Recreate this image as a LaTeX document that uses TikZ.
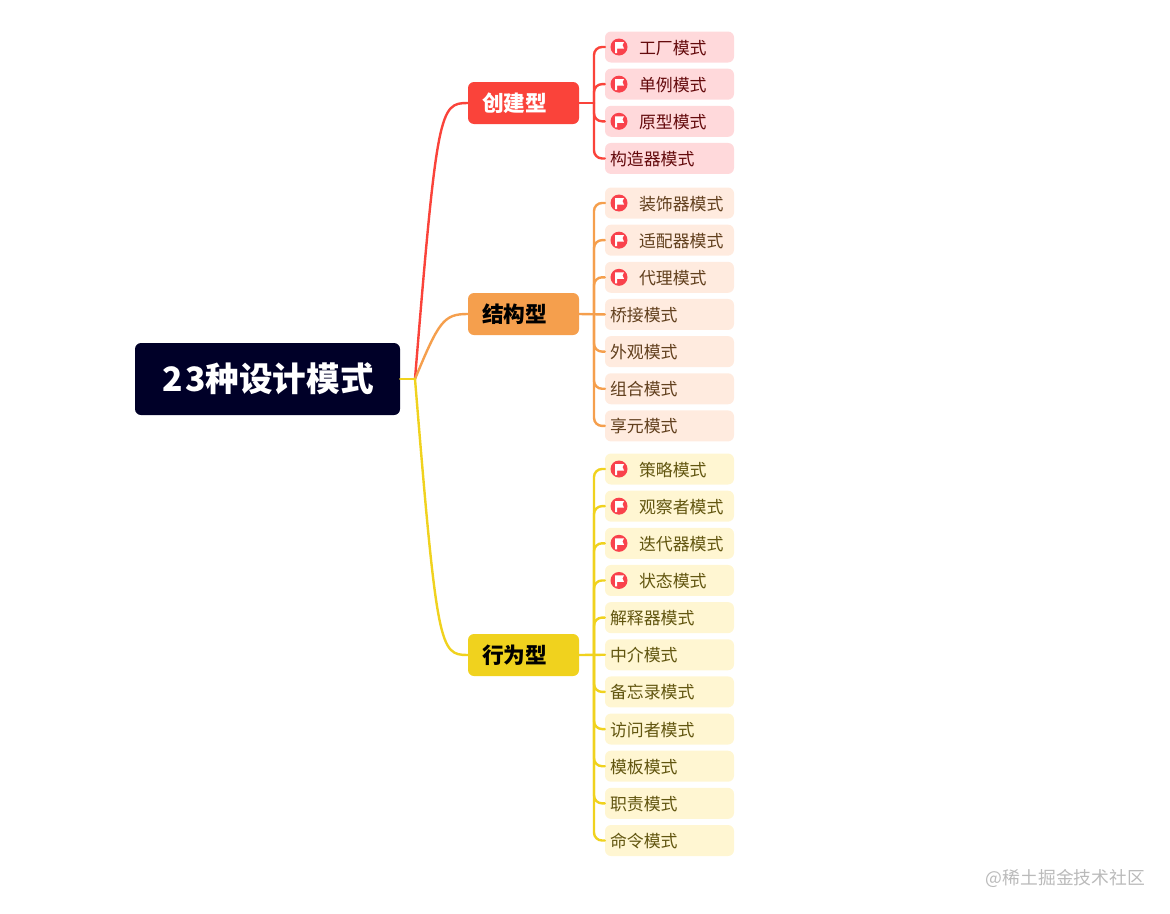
\documentclass[tikz,border=0pt]{standalone}
\usepackage{fontspec}
\setmainfont{Noto Sans CJK SC}
\usetikzlibrary{positioning}

\definecolor{rootblue}{HTML}{000028}
\definecolor{redmain}{HTML}{FA433A}
\definecolor{redleaf}{HTML}{FFD9DB}
\definecolor{redtext}{HTML}{640A0C}
\definecolor{orangemain}{HTML}{F59F4D}
\definecolor{orangeleaf}{HTML}{FFEBDF}
\definecolor{orangetext}{HTML}{62401E}
\definecolor{yellowmain}{HTML}{F0D21E}
\definecolor{yellowleaf}{HTML}{FFF6D2}
\definecolor{yellowtext}{HTML}{625610}
\definecolor{flagred}{HTML}{F9424C}

\begin{document}
\begin{tikzpicture}[
		x=1pt, y=-1pt,
		every node/.style={rectangle, align=left, inner sep=0pt},
		rootbox/.style={fill=rootblue, text=white, rounded corners=6pt, minimum width=265pt, minimum height=72pt, font=\fontsize{33.6}{36}\selectfont\bfseries},
		catbox/.style={rounded corners=6pt, minimum width=111pt, minimum height=42pt, text width=83pt, inner xsep=14pt, font=\fontsize{21.7}{24}\selectfont\bfseries},
		leaf/.style={rounded corners=6pt, minimum height=31pt, text width=119pt, inner xsep=5pt, font=\fontsize{16.9}{19}\selectfont, text height=14pt, text depth=0pt},
		flagged/.style={leaf, execute at begin node=\hspace*{29pt}},
		redleafbox/.style={fill=redleaf, text=redtext},
		orangeleafbox/.style={fill=orangeleaf, text=orangetext},
		yellowleafbox/.style={fill=yellowleaf, text=yellowtext},
		flagdot/.style={circle, fill=flagred, minimum size=17pt, path picture={
				\fill[white, shift={(path picture bounding box.center)}] (-4,-5) -- (5,-5) -- (3.5,-2) -- (5,1.5) -- (-2,1.5) -- (-2,6) -- (-4,6) -- cycle;}},
		link/.style={line width=2.4pt, line cap=round},
		spine/.style={link, rounded corners=8pt}
		]
		\useasboundingbox (0,0) rectangle (1170,913);
		
		% Root
		\node (root) [rootbox] at (267.5,379) {\hspace*{1.5pt}2\kern2pt3种设计模式};
		\coordinate (hub) at (415,379);
		
		% Groups
		\node (creat) [catbox, fill=redmain, text=white] at (523.5,103) {创建型};
		\node (struct) [catbox, fill=orangemain, text=black] at (523.5,314) {结构型};
		\node (behav) [catbox, fill=yellowmain, text=black] at (523.5,655) {行为型};
		
		% Spine points
		\coordinate (sc) at (594,103);
		\coordinate (ss) at (594,314);
		\coordinate (sb) at (594,655);
		
		% Creational leaves
		\node (c1) [flagged, redleafbox] at (669.5,47) {工厂模式};
		\node (c2) [flagged, redleafbox, below=5.75pt of c1] {单例模式};
		\node (c3) [flagged, redleafbox, below=5.75pt of c2] {原型模式};
		\node (c4) [leaf, redleafbox, below=5.75pt of c3] {构造器模式};
		
		% Structural leaves
		\node (s1) [flagged, orangeleafbox] at (669.5,203) {装饰器模式};
		\node (s2) [flagged, orangeleafbox, below=5.75pt of s1] {适配器模式};
		\node (s3) [flagged, orangeleafbox, below=5.75pt of s2] {代理模式};
		\node (s4) [leaf, orangeleafbox, below=5.75pt of s3] {桥接模式};
		\node (s5) [leaf, orangeleafbox, below=5.75pt of s4] {外观模式};
		\node (s6) [leaf, orangeleafbox, below=5.75pt of s5] {组合模式};
		\node (s7) [leaf, orangeleafbox, below=5.75pt of s6] {享元模式};
		
		% Behavioral leaves
		\node (b1) [flagged, yellowleafbox] at (669.5,469) {策略模式};
		\node (b2) [flagged, yellowleafbox, below=5.75pt of b1] {观察者模式};
		\node (b3) [flagged, yellowleafbox, below=5.75pt of b2] {迭代器模式};
		\node (b4) [flagged, yellowleafbox, below=5.75pt of b3] {状态模式};
		\node (b5) [leaf, yellowleafbox, below=5.75pt of b4] {解释器模式};
		\node (b6) [leaf, yellowleafbox, below=5.75pt of b5] {中介模式};
		\node (b7) [leaf, yellowleafbox, below=5.75pt of b6] {备忘录模式};
		\node (b8) [leaf, yellowleafbox, below=5.75pt of b7] {访问者模式};
		\node (b9) [leaf, yellowleafbox, below=5.75pt of b8] {模板模式};
		\node (b10) [leaf, yellowleafbox, below=5.75pt of b9] {职责模式};
		\node (b11) [leaf, yellowleafbox, below=5.75pt of b10] {命令模式};
		
		% Flags
		\node (fc1) [flagdot, right=5.5pt of c1.west] {};
		\node (fc2) [flagdot, right=5.5pt of c2.west] {};
		\node (fc3) [flagdot, right=5.5pt of c3.west] {};
		\node (fs1) [flagdot, right=5.5pt of s1.west] {};
		\node (fs2) [flagdot, right=5.5pt of s2.west] {};
		\node (fs3) [flagdot, right=5.5pt of s3.west] {};
		\node (fb1) [flagdot, right=5.5pt of b1.west] {};
		\node (fb2) [flagdot, right=5.5pt of b2.west] {};
		\node (fb3) [flagdot, right=5.5pt of b3.west] {};
		\node (fb4) [flagdot, right=5.5pt of b4.west] {};
		
		% Main branches
		\draw[link, redmain] (hub) .. controls +(22,-270) and +(-28,0) .. (creat.west);
		\draw[link, orangemain] (hub) .. controls +(24,-58) and +(-24,0) .. (struct.west);
		\draw[link, yellowmain] (hub) .. controls +(22,270) and +(-28,0) .. (behav.west);
		\draw[link, yellowmain] (root.east) -- (hub);
		
		% Red links
		\draw[link, redmain] (creat.east) -- (sc);
		\draw[spine, redmain] (sc) |- (c1.west);
		\draw[spine, redmain] (sc) |- (c2.west);
		\draw[spine, redmain] (sc) |- (c3.west);
		\draw[spine, redmain] (sc) |- (c4.west);
		
		% Orange links
		\draw[link, orangemain] (struct.east) -- (s4.west);
		\draw[spine, orangemain] (ss) |- (s1.west);
		\draw[spine, orangemain] (ss) |- (s2.west);
		\draw[spine, orangemain] (ss) |- (s3.west);
		\draw[spine, orangemain] (ss) |- (s5.west);
		\draw[spine, orangemain] (ss) |- (s6.west);
		\draw[spine, orangemain] (ss) |- (s7.west);
		
		% Yellow links
		\draw[link, yellowmain] (behav.east) -- (b6.west);
		\draw[spine, yellowmain] (sb) |- (b1.west);
		\draw[spine, yellowmain] (sb) |- (b2.west);
		\draw[spine, yellowmain] (sb) |- (b3.west);
		\draw[spine, yellowmain] (sb) |- (b4.west);
		\draw[spine, yellowmain] (sb) |- (b5.west);
		\draw[spine, yellowmain] (sb) |- (b7.west);
		\draw[spine, yellowmain] (sb) |- (b8.west);
		\draw[spine, yellowmain] (sb) |- (b9.west);
		\draw[spine, yellowmain] (sb) |- (b10.west);
		\draw[spine, yellowmain] (sb) |- (b11.west);
		
		% Watermark
		\node (mark) [text=black!27, font=\fontsize{17.8}{20}\selectfont] at (1065.5,878) {@稀土掘金技术社区};
		
	\end{tikzpicture}
\end{document}
